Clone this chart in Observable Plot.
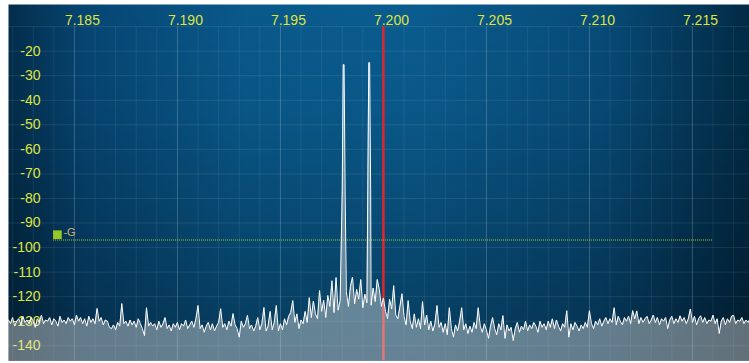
<!DOCTYPE html>
<html>
<head>
<meta charset="utf-8">
<script src="https://cdn.jsdelivr.net/npm/d3@7"></script>
<script src="https://cdn.jsdelivr.net/npm/@observablehq/plot@0.6"></script>
<style>
  body { margin: 0; background: #ffffff; }
  #chart svg { display: block; }
</style>
</head>
<body>
<div id="chart"></div>
<script>
// ---- Data ----
const freqStart = 7.1818;      // MHz, first FFT bin
const binWidth = 0.0001;       // MHz per bin
const levels = [
  -129.5,-131,-128.5,-132,-130,-129,-131.5,-128,-130.5,-129.5,
  -131,-128.5,-130,-132.5,-129,-130.5,-127.5,-131,-129.5,-130,
  -128.5,-131.5,-129,-130,-132,-128,-130.5,-129.5,-131,-128.5,
  -130,-129,-131.5,-127.5,-130,-128.5,-131,-129,-132,-128,
  -130.5,-129,-131,-124.8,-130,-128.5,-131.5,-129.5,-130,-132.5,
  -133,-131.5,-133.5,-130.5,-132,-122.8,-131,-130,-132,-129.5,
  -131.5,-130,-132.5,-129,-131,-133,-135.9,-124.5,-132,-130.5,
  -132,-131,-133.5,-130,-132.5,-131,-128.5,-133,-131.5,-134,
  -131,-132.5,-130.5,-133.5,-131,-132,-129.5,-133,-131.5,-130,
  -132.5,-129,-123.6,-133,-131.5,-134.5,-132,-130.5,-133.5,-131,
  -134,-132,-130.5,-124.9,-132.5,-131,-133.5,-130,-132,-126.9,
  -131.5,-133,-136.5,-130,-132.5,-131,-127.6,-133,-131.5,-134,
  -132,-128.5,-133.5,-131,-124.4,-134,-132,-126,-133.5,-130.5,
  -123.6,-134,-131,-133.5,-129,-131.5,-128,-126.5,-121.6,-130.5,
  -127,-133,-129.5,-131,-126,-130.5,-120.4,-128.5,-121.8,-127,
  -129,-117.5,-126,-121.5,-128.5,-119.5,-124,-113.5,-126.5,-112.2,
  -125.5,-121.6,-127,-122,-118,-124,-115.8,-112,-123,-117,
  -121,-113,-124.5,-119,-122.5,-120,-123.5,-116.5,-122,-113,
  -117,-124,-120.5,-126,-129,-121,-125,-115.5,-127.5,-129,
  -124,-118.8,-128,-131.5,-121.6,-130,-133,-127,-132.5,-129,
  -133,-122,-131.5,-127.5,-133.5,-130,-134,-131,-123.6,-132.5,
  -130.5,-134.5,-131,-135.5,-124.5,-133,-136.5,-131.5,-134,-130,
  -124.5,-133.5,-131,-135,-132,-134.5,-130.5,-133,-124.5,-132,
  -134.5,-131,-133.5,-137,-132,-128.5,-133,-135.5,-131,-133.5,
  -127.7,-137,-131.5,-134,-132.5,-137.9,-133,-130.5,-134.5,-132,
  -133.5,-130,-134,-131.5,-133,-130.5,-132,-134.5,-130,-132.5,
  -131,-133.5,-130,-132.5,-129,-133,-129.5,-132,-134,-131,
  -132.5,-125.7,-136.5,-131,-133.5,-130.5,-132,-134,-131.5,-133,
  -130.5,-132.5,-125.7,-131,-133,-130,-131.5,-129,-132,-130,
  -128.5,-131,-129,-130.5,-124.5,-131.5,-128,-130,-131.5,-128.5,
  -130,-128,-131,-125.7,-129,-125.8,-131,-128.5,-130.5,-129,
  -128,-131,-129.5,-127.5,-130.5,-128.5,-131.5,-129,-130,-128.5,
  -133,-129.5,-128,-131,-129,-130.5,-127.8,-130,-128.5,-131,
  -129,-125,-130.5,-128,-131.5,-129,-127.8,-130.5,-128.5,-131,
  -129.5,-130,-127.5,-131,-129,-135,-130,-128.5,-131.5,-129,
  -130.5,-128,-127.6,-131,-129.5,-130,-128.5,-131,-129.5,-130.5,-129
];
const carrierFreqs = [7.19807, 7.19931];
const carrierPeaks = [-25.5, -24.7];
const carrierShoulders = [-77, -76.5];

const xTicks = [7.185, 7.190, 7.195, 7.200, 7.205, 7.210, 7.215];
const yTicks = [-20, -30, -40, -50, -60, -70, -80, -90, -100, -110, -120, -130, -140];
const gridY = [-10, -20, -30, -40, -50, -60, -70, -80, -90, -100, -110, -120, -130, -140];
const tuneFreq = 7.200;
const squelchLevel = -96.8;
const squelchFrom = 7.18398;
const squelchTo = 7.21602;
const squelchLabel = "-G";

// ---- Build spectrum table ----
const bins = levels
  .map((v, i) => ({f: freqStart + i * binWidth, v}))
  .filter(d => carrierFreqs.every(c => Math.abs(d.f - c) >= 0.00008));
const carrierPts = carrierFreqs.flatMap((c, k) => [
  {f: c - 0.00007, v: carrierShoulders[k]},
  {f: c - 0.00002, v: carrierPeaks[k]},
  {f: c + 0.00002, v: carrierPeaks[k]},
  {f: c + 0.00007, v: carrierShoulders[k]}
]);
const spectrum = bins.concat(carrierPts).sort((a, b) => a.f - b.f);

const yMin = -146, yMax = -1;
const minorGrid = d3.range(7.182, 7.2175, 0.001).filter(t => !xTicks.some(m => Math.abs(m - t) < 1e-6));

const tickColor = "#dfe43e";
const font = "'Liberation Sans', Arial, sans-serif";

const chart = Plot.plot({
  width: 749,
  height: 363,
  marginTop: 4,
  marginLeft: 8,
  marginRight: 0,
  marginBottom: 3,
  style: {fontFamily: font, background: "transparent"},
  x: {domain: [7.18180, 7.21777], axis: null},
  y: {domain: [yMin, yMax], axis: null},
  marks: [
    Plot.frame({fill: "url(#bgH)", stroke: "none"}),
    Plot.frame({fill: "url(#bgV)", stroke: "none"}),
    Plot.ruleX(minorGrid, {x: d => d, y1: -10, y2: yMin, stroke: "#ffffff", strokeOpacity: 0.07}),
    Plot.ruleX(xTicks, {x: d => d, y1: -10, y2: yMin, stroke: "#ffffff", strokeOpacity: 0.2}),
    Plot.ruleY(gridY, {y: d => d, stroke: "#ffffff", strokeOpacity: 0.09}),
    Plot.text(yTicks, {y: d => d, text: d => String(d), frameAnchor: "left", dx: 32, textAnchor: "end", fill: tickColor, fontSize: 14}),
    Plot.text(xTicks, {x: d => d, text: d => d.toFixed(3), frameAnchor: "top", dy: 11, dx: 8, fill: tickColor, fontSize: 14}),
    Plot.ruleX([tuneFreq], {x: d => d, y1: -10, y2: yMin, stroke: "#e0262a", strokeWidth: 2.5}),
    Plot.ruleY([squelchLevel], {y: d => d, x1: squelchFrom, x2: squelchTo, dy: 0.3, stroke: "#a6cc2e", strokeWidth: 1, strokeDasharray: "1,1"}),
    Plot.areaY(spectrum, {x: "f", y1: yMin, y2: "v", fill: "rgb(232,228,224)", fillOpacity: 0.42}),
    Plot.lineY(spectrum, {x: "f", y: "v", stroke: "#ffffff", strokeWidth: 1}),
    Plot.dot([squelchLevel], {x: () => squelchFrom, y: d => d, symbol: "square", r: 4.9, fill: "#98c828", stroke: "none", dx: 4, dy: -5}),
    Plot.text([squelchLabel], {x: () => squelchFrom, y: () => squelchLevel, text: d => d, dx: 10, dy: -7, textAnchor: "start", fill: "#c8b27a", fontSize: 11})
  ]
});

const defs = `
<linearGradient id="bgH" x1="0" y1="0" x2="1" y2="0">
  <stop offset="0" stop-color="#032d4b"/>
  <stop offset="0.1" stop-color="#064572"/>
  <stop offset="0.32" stop-color="#09598b"/>
  <stop offset="0.55" stop-color="#0a5c8f"/>
  <stop offset="0.8" stop-color="#074b78"/>
  <stop offset="1" stop-color="#022b46"/>
</linearGradient>
<linearGradient id="bgV" x1="0" y1="0" x2="0" y2="1">
  <stop offset="0" stop-color="#000000" stop-opacity="0"/>
  <stop offset="0.3" stop-color="#000000" stop-opacity="0.05"/>
  <stop offset="1" stop-color="#000000" stop-opacity="0.35"/>
</linearGradient>`;
d3.select(chart).insert("defs", ":first-child").html(defs);

document.getElementById("chart").appendChild(chart);
</script>
</body>
</html>
